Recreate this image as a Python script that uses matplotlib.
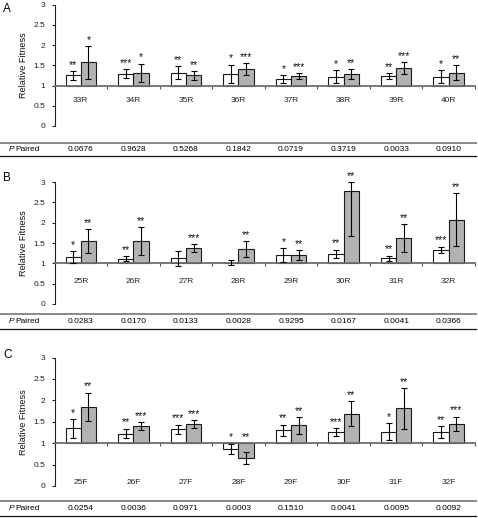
import matplotlib
matplotlib.use('Agg')
import matplotlib.pyplot as plt
import numpy as np
from matplotlib.transforms import blended_transform_factory
from matplotlib.lines import Line2D

plt.rcParams['font.family'] = ['Liberation Sans', 'DejaVu Sans']

# ---------------- Data ----------------
cats_a = ['33R', '34R', '35R', '36R', '37R', '38R', '39R', '40R']
white_a = [1.25, 1.29, 1.31, 1.29, 1.16, 1.22, 1.24, 1.22]
white_err_a = [0.11, 0.115, 0.16, 0.225, 0.105, 0.17, 0.07, 0.155]
gray_a = [1.57, 1.31, 1.25, 1.40, 1.23, 1.29, 1.43, 1.32]
gray_err_a = [0.41, 0.23, 0.105, 0.15, 0.08, 0.125, 0.15, 0.175]
stars_white_a = ['**', '***', '**', '*', '*', '*', '**', '*']
stars_gray_a = ['*', '*', '**', '***', '***', '**', '***', '**']
p_a = ['0.0676', '0.9628', '0.5268', '0.1842', '0.0719', '0.3719', '0.0033', '0.0910']

cats_b = ['25R', '26R', '27R', '28R', '29R', '30R', '31R', '32R']
white_b = [1.16, 1.11, 1.12, 1.02, 1.205, 1.24, 1.12, 1.33]
white_err_b = [0.14, 0.06, 0.18, 0.06, 0.17, 0.10, 0.07, 0.08]
gray_b = [1.55, 1.55, 1.38, 1.36, 1.205, 2.77, 1.62, 2.07]
gray_err_b = [0.30, 0.345, 0.095, 0.195, 0.125, 1.10, 0.34, 0.65]
stars_white_b = ['*', '**', '', '', '*', '**', '**', '***']
stars_gray_b = ['**', '**', '***', '**', '**', '**', '**', '**']
p_b = ['0.0283', '0.0170', '0.0133', '0.0028', '0.9295', '0.0167', '0.0041', '0.0366']

cats_c = ['25F', '26F', '27F', '28F', '29F', '30F', '31F', '32F']
white_c = [1.35, 1.225, 1.325, 0.87, 1.30, 1.265, 1.265, 1.25]
white_err_c = [0.22, 0.115, 0.11, 0.115, 0.135, 0.095, 0.20, 0.14]
gray_c = [1.845, 1.40, 1.455, 0.66, 1.42, 1.69, 1.81, 1.455]
gray_err_c = [0.335, 0.10, 0.09, 0.135, 0.195, 0.30, 0.48, 0.165]
stars_white_c = ['*', '**', '***', '*', '**', '***', '*', '**']
stars_gray_c = ['**', '***', '***', '**', '**', '**', '**', '***']
p_c = ['0.0254', '0.0036', '0.0971', '0.0003', '0.1510', '0.0041', '0.0095', '0.0092']

yticks = [0, 0.5, 1, 1.5, 2, 2.5, 3]
ytick_labels = ['0', '0.5', '1', '1.5', '2', '2.5', '3']

# ---------------- Layout ----------------
W, H = 478, 518
fig = plt.figure(figsize=(W / 100, H / 100), dpi=100)

def px_axes(left, top, right, bottom):
    return fig.add_axes([left / W, 1 - bottom / H, (right - left) / W, (bottom - top) / H])

def hline(y_px, color, lw):
    fig.add_artist(Line2D([0, 476 / W], [1 - y_px / H, 1 - y_px / H],
                          transform=fig.transFigure, color=color, lw=lw))

def panel(box, letter, letter_y, cats, wv, we, gv, ge, sw, sg, pvals, table_y, label_pad):
    ax = px_axes(*box)
    n = len(cats)
    x = np.arange(n)
    bw = 0.29
    wv = np.array(wv); we = np.array(we); gv = np.array(gv); ge = np.array(ge)
    ymax = 3.0
    ax.bar(x - bw / 2, wv - 1, bottom=1, width=bw, color='white', edgecolor='#1a1a1a', lw=0.8, zorder=2)
    ax.bar(x + bw / 2, gv - 1, bottom=1, width=bw, color='#b2b2b2', edgecolor='#1a1a1a', lw=0.8, zorder=2)
    we_up = np.minimum(we, ymax - wv)
    ge_up = np.minimum(ge, ymax - gv)
    ax.errorbar(x - bw / 2, wv, yerr=[we, we_up], fmt='none', ecolor='black', elinewidth=0.8,
                capsize=2, capthick=0.8, zorder=3, clip_on=False)
    ax.errorbar(x + bw / 2, gv, yerr=[ge, ge_up], fmt='none', ecolor='black', elinewidth=0.8,
                capsize=2, capthick=0.8, zorder=3, clip_on=False)
    for i in range(n):
        for xx, v, e, s in ((x[i] - bw / 2, wv[i], we_up[i], sw[i]), (x[i] + bw / 2, gv[i], ge_up[i], sg[i])):
            if s:
                ytop = max(v + e, 1.0)
                ax.annotate(s, (xx, ytop), xytext=(0, 0.8), textcoords='offset points',
                            ha='center', va='bottom', fontsize=7.5, color='#111111',
                            annotation_clip=False)
    ax.set_xlim(-0.5, n - 0.5)
    ax.set_ylim(0, ymax)
    ax.set_yticks(yticks)
    ax.set_yticklabels(ytick_labels)
    ax.tick_params(axis='y', direction='out', length=2.5, width=0.8, labelsize=6, pad=4, colors='#222222')
    ax.set_xticks(np.arange(n) + 0.5)
    ax.set_xticklabels([])
    ax.set_xticks(x, minor=True)
    ax.set_xticklabels(cats, minor=True)
    ax.tick_params(axis='x', which='major', direction='out', length=2, width=0.8, color='#555555')
    ax.tick_params(axis='x', which='minor', length=0, labelsize=6, pad=label_pad, labelcolor='#222222')
    for sp in ('top', 'right'):
        ax.spines[sp].set_visible(False)
    ax.spines['bottom'].set_position(('data', 1))
    ax.spines['bottom'].set_color('#6e6e6e')
    ax.spines['bottom'].set_linewidth(1.3)
    ax.spines['left'].set_color('#222222')
    ax.spines['left'].set_linewidth(0.8)
    ax.set_ylabel('Relative Fitness', fontsize=6.6, color='#111111')
    ax.yaxis.set_label_coords(-0.063, 0.5)
    ax.patch.set_visible(False)

    fig.text(3 / W, 1 - letter_y / H, letter, fontsize=8.5, ha='left', va='center')

    t_top, t_text, t_bot = table_y
    hline(t_top, '#8a8a8a', 1.4)
    hline(t_bot, '#111111', 0.9)
    trans = blended_transform_factory(ax.transData, fig.transFigure)
    for i, p in enumerate(pvals):
        ax.text(x[i], 1 - t_text / H, p, transform=trans, ha='center', va='center', fontsize=6)
    fig.text(9 / W, 1 - t_text / H, 'P', fontsize=6, fontstyle='italic', ha='left', va='center')
    fig.text(15 / W, 1 - t_text / H, 'Paired', fontsize=6, ha='left', va='center')
    return ax

panel((54.5, 4.5, 475, 126), 'A', 9, cats_a, white_a, white_err_a, gray_a, gray_err_a,
      stars_white_a, stars_gray_a, p_a, (142.5, 149.5, 156), 8.5)
panel((54.5, 182, 475, 304), 'B', 178, cats_b, white_b, white_err_b, gray_b, gray_err_b,
      stars_white_b, stars_gray_b, p_b, (314, 321.5, 329), 10.5)
panel((54.5, 357.5, 475, 486), 'C', 355, cats_c, white_c, white_err_c, gray_c, gray_err_c,
      stars_white_c, stars_gray_c, p_c, (501, 508.5, 516), 25.5)

fig.savefig('out.png', dpi=100)
